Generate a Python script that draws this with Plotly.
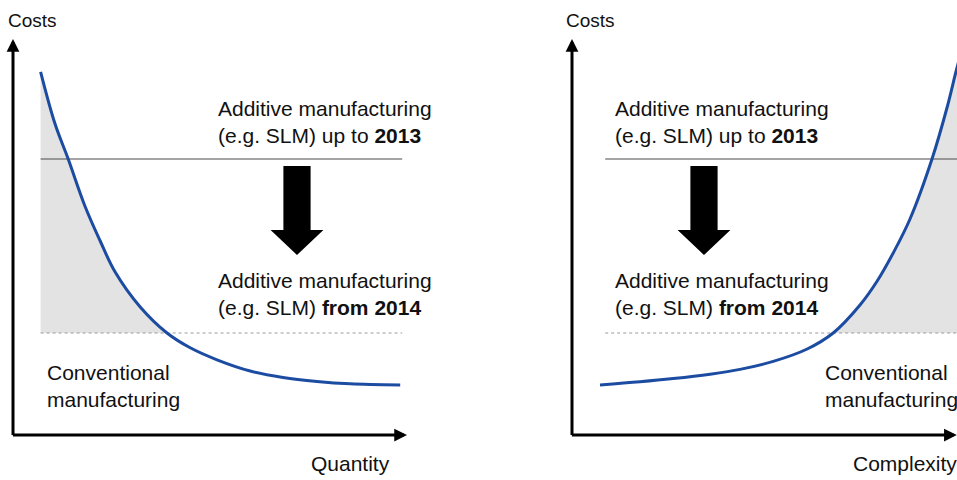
import plotly.graph_objects as go

# ---------------- data ----------------
quantity = [0.69, 1.05, 1.38, 1.80, 2.18, 2.55, 3.18, 3.85, 4.43, 5.10, 5.93, 6.75, 7.60, 8.43, 9.68]
cost_vs_quantity = [9.08, 7.78, 6.90, 5.72, 4.85, 4.08, 3.20, 2.55, 2.18, 1.88, 1.60, 1.44, 1.34, 1.28, 1.25]

complexity = [0.70, 1.70, 2.53, 3.45, 4.20, 5.03, 5.88, 6.53, 7.20, 7.63, 8.03, 8.45, 9.00, 9.38, 9.63, 9.83]
cost_vs_complexity = [1.25, 1.33, 1.41, 1.52, 1.64, 1.84, 2.15, 2.55, 3.25, 3.85, 4.55, 5.40, 6.90, 8.20, 9.20, 9.88]

am_level_2013 = 6.90   # additive manufacturing cost level up to 2013
am_level_2014 = 2.55   # additive manufacturing cost level from 2014

x_label_left = "Quantity"
x_label_right = "Complexity"
y_label = "Costs"
txt_2013 = "Additive manufacturing<br>(e.g. SLM) up to <b>2013</b>"
txt_2014 = "Additive manufacturing<br>(e.g. SLM) <b>from 2014</b>"
txt_conv = "Conventional<br>manufacturing"

# ---------------- styling ----------------
W, H = 957, 480
FONT = "Liberation Sans, Arial, sans-serif"
FS = 21
CURVE = "#1c4ca2"
SHADE = "#e3e3e3"
LEFT_RANGE = [0, 10]
RIGHT_RANGE = [0, 9.625]
Y_RANGE = [0, 10]


def pxx(x):
    return x / W


def pxy(y):
    return 1 - y / H


fig = go.Figure()

# shaded areas (between curve and the 2014 level)
left_sx = [q for q, c in zip(quantity, cost_vs_quantity) if c >= am_level_2014]
left_sy = [c for c in cost_vs_quantity if c >= am_level_2014]
left_sx += [quantity[0]]
left_sy += [am_level_2014]
fig.add_trace(go.Scatter(x=left_sx, y=left_sy, fill="toself", fillcolor=SHADE,
                         line=dict(width=0), mode="lines", hoverinfo="skip",
                         xaxis="x", yaxis="y"))

right_sx = [q for q, c in zip(complexity, cost_vs_complexity) if c >= am_level_2014]
right_sy = [c for c in cost_vs_complexity if c >= am_level_2014]
right_sx += [RIGHT_RANGE[1] + 1, RIGHT_RANGE[1] + 1]
right_sy += [right_sy[-1], am_level_2014]
fig.add_trace(go.Scatter(x=right_sx, y=right_sy, fill="toself", fillcolor=SHADE,
                         line=dict(width=0), mode="lines", hoverinfo="skip",
                         xaxis="x2", yaxis="y2"))

# level lines
fig.add_trace(go.Scatter(x=[quantity[0], 9.73], y=[am_level_2013] * 2, mode="lines",
                         line=dict(color="#4a4a4a", width=1), xaxis="x", yaxis="y", hoverinfo="skip"))
fig.add_trace(go.Scatter(x=[quantity[0], 9.73], y=[am_level_2014] * 2, mode="lines",
                         line=dict(color="#9a9a9a", width=1, dash="dot"), xaxis="x", yaxis="y", hoverinfo="skip"))
fig.add_trace(go.Scatter(x=[0.83, RIGHT_RANGE[1] + 1], y=[am_level_2013] * 2, mode="lines",
                         line=dict(color="#4a4a4a", width=1), xaxis="x2", yaxis="y2", hoverinfo="skip"))
fig.add_trace(go.Scatter(x=[0.83, RIGHT_RANGE[1] + 1], y=[am_level_2014] * 2, mode="lines",
                         line=dict(color="#9a9a9a", width=1, dash="dot"), xaxis="x2", yaxis="y2", hoverinfo="skip"))

# curves
fig.add_trace(go.Scatter(x=quantity, y=cost_vs_quantity, mode="lines", line_shape="spline",
                         line=dict(color=CURVE, width=3), xaxis="x", yaxis="y"))
fig.add_trace(go.Scatter(x=complexity, y=cost_vs_complexity, mode="lines", line_shape="spline",
                         line=dict(color=CURVE, width=3), xaxis="x2", yaxis="y2"))


# block arrows (decoration)
def block_arrow(cx, xref, yref):
    sw, hw = 0.34, 0.66
    top, neck, tip = 6.725, 5.125, 4.5
    path = (f"M{cx - sw},{top} L{cx + sw},{top} L{cx + sw},{neck} L{cx + hw},{neck} "
            f"L{cx},{tip} L{cx - hw},{neck} L{cx - sw},{neck} Z")
    return dict(type="path", path=path, xref=xref, yref=yref,
                fillcolor="black", line=dict(width=0), layer="above")


fig.update_layout(shapes=[block_arrow(7.1, "x", "y"), block_arrow(3.3, "x2", "y2")])

annotations = []


def axis_arrow(x, y, ax, ay, xr, yr):
    return dict(x=x, y=y, ax=ax, ay=ay, xref=xr, yref=yr, axref=xr, ayref=yr,
                text="", showarrow=True, arrowhead=2, arrowsize=0.85, arrowwidth=3,
                arrowcolor="black", standoff=0, startstandoff=0)


annotations += [
    axis_arrow(0, 9.9, 0, -0.04, "x", "y"),
    axis_arrow(9.85, 0, -0.04, 0, "x", "y"),
    axis_arrow(0, 9.9, 0, -0.04, "x2", "y2"),
    axis_arrow(9.62, 0, -0.04, 0, "x2", "y2"),
]


def label(text, left, baseline, size=FS):
    top = baseline - 0.93 * size - 1
    return dict(text=text, x=pxx(left), y=pxy(top), xref="paper", yref="paper",
                xanchor="left", yanchor="top", align="left", showarrow=False,
                font=dict(family=FONT, size=size, color="#111111"))


annotations += [
    label(y_label, 6, 27, 19),
    label(y_label, 564, 27, 19),
    label(txt_2013, 216, 116),
    label(txt_2013, 613, 116),
    label(txt_2014, 216, 288),
    label(txt_2014, 613, 288),
    label(txt_conv, 45, 380),
    label(txt_conv, 823, 380),
    label(x_label_left, 309, 471),
    label(x_label_right, 851, 471),
]

fig.update_layout(
    width=W, height=H,
    margin=dict(l=0, r=0, t=0, b=0),
    paper_bgcolor="white", plot_bgcolor="white",
    showlegend=False,
    annotations=annotations,
    xaxis=dict(domain=[13 / W, 413 / W], range=LEFT_RANGE, visible=False, fixedrange=True),
    yaxis=dict(domain=[45 / H, 445 / H], range=Y_RANGE, visible=False, fixedrange=True),
    xaxis2=dict(domain=[572 / W, 1.0], range=RIGHT_RANGE, visible=False, anchor="y2", fixedrange=True),
    yaxis2=dict(domain=[45 / H, 445 / H], range=Y_RANGE, visible=False, anchor="x2", fixedrange=True),
)

fig.write_html("out.html", config={"displayModeBar": False},
               post_script="document.body.style.margin='0';document.body.style.overflow='hidden';")
